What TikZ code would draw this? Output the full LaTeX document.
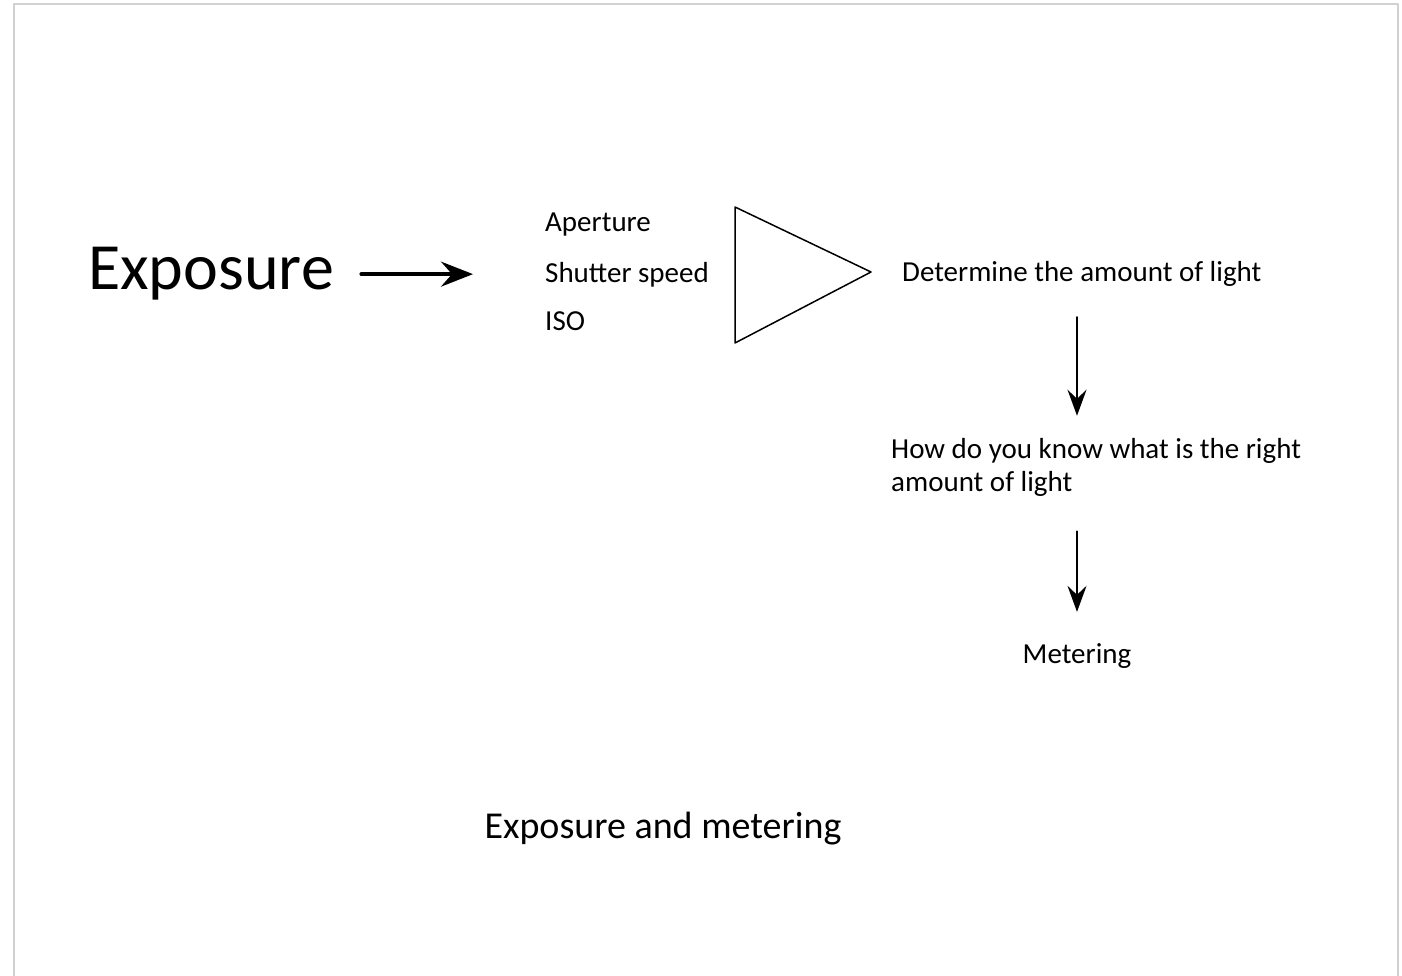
\documentclass[tikz,border=0pt]{standalone}
\usepackage{fontspec}
\setmainfont{Carlito}
\usetikzlibrary{arrows.meta}
\usetikzlibrary{positioning}

\begin{document}
\begin{tikzpicture}[line cap=round,line join=round,>={Stealth[length=26pt,width=19pt,inset=9pt]},x=1pt,y=-1pt,
  txt/.style={anchor=base west,inner sep=0pt,font=\fontsize{29}{33}\selectfont},
  big/.style={anchor=base west,inner sep=0pt,font=\fontsize{66}{70}\selectfont},
  flow/.style={->,line width=2pt}]
\useasboundingbox (0,0) rectangle (1402,976);
\draw[color=black!18,line width=1.2pt] (14,990) -- (14,4) -- (1398,4) -- (1398,990);
\draw (88,290) node[big] (expo) {Exposure};
\draw (545,232) node[txt] (aper) {Aperture};
\draw (545,283) node[txt] (shut) {Shutter speed};
\draw (545,330) node[txt] (iso) {ISO};
\draw[line width=1.5pt] (735,207) -- (735,343) -- (871,272) -- cycle;
\draw (902,282) node[txt] (det) {Determine the amount of light};
\draw (891,467) node[txt,anchor=west,align=left] (how) {How do you know what is the right\\amount of light};
\draw (1077,663) node[txt,anchor=base] (meter) {Metering};
\draw (663,838) node[txt,anchor=base,font=\fontsize{38}{42}\selectfont] (title) {Exposure and metering};
\draw[flow,line width=3.5pt,-{Stealth[length=32pt,width=25pt,inset=11pt]},shorten <=27pt,shorten >=72pt] (expo.east) -- (expo.east -| shut.west);
\draw[flow,shorten <=30pt,shorten >=22pt] (det.south -| meter) -- (how.north -| meter);
\draw[flow,shorten <=35pt,shorten >=31pt] (how.south -| meter) -- (meter.north);
\end{tikzpicture}
\end{document}
